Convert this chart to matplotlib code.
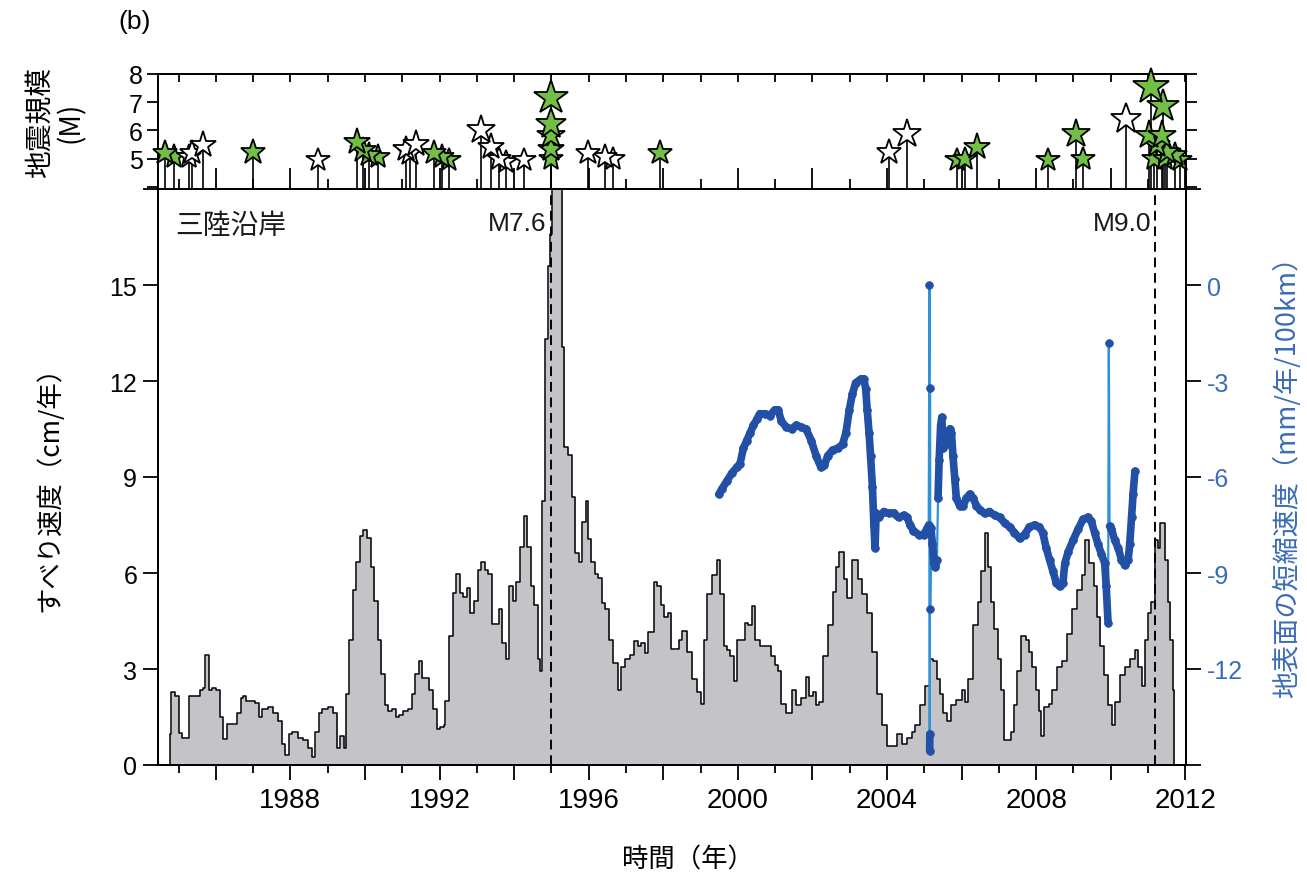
import matplotlib
matplotlib.use('Agg')
import matplotlib.pyplot as plt
from matplotlib.ticker import MultipleLocator, FixedLocator, FuncFormatter
from matplotlib.collections import LineCollection

plt.rcParams['font.family'] = ['Liberation Sans', 'Noto Sans CJK JP', 'DejaVu Sans']
CJK = ['Noto Sans CJK JP', 'DejaVu Sans']

# ---------------- data ----------------
# slip rate (cm/yr), step series
slip_years = [
    1984.76, 1984.76, 1984.81, 1984.90, 1985.00, 1985.10, 1985.29, 1985.57, 1985.67, 1985.72,
    1985.81, 1985.91, 1986.00, 1986.10, 1986.19, 1986.29, 1986.57, 1986.67, 1986.72, 1986.81,
    1987.05, 1987.15, 1987.24, 1987.39, 1987.53, 1987.67, 1987.77, 1987.86, 1987.96, 1988.05,
    1988.20, 1988.34, 1988.48, 1988.58, 1988.67, 1988.77, 1988.86, 1989.01, 1989.15, 1989.25,
    1989.34, 1989.44, 1989.48, 1989.58, 1989.68, 1989.77, 1989.87, 1989.96, 1990.06, 1990.15,
    1990.25, 1990.34, 1990.44, 1990.53, 1990.63, 1990.73, 1990.82, 1990.92, 1991.01, 1991.15,
    1991.25, 1991.35, 1991.44, 1991.54, 1991.63, 1991.73, 1991.82, 1991.92, 1992.01, 1992.11,
    1992.16, 1992.25, 1992.35, 1992.44, 1992.54, 1992.63, 1992.73, 1992.82, 1992.92, 1993.02,
    1993.11, 1993.21, 1993.30, 1993.40, 1993.49, 1993.59, 1993.68, 1993.78, 1993.87, 1993.97,
    1994.06, 1994.16, 1994.26, 1994.35, 1994.45, 1994.54, 1994.64, 1994.69, 1994.76, 1994.83,
    1994.92, 1994.97, 1995.02, 1995.29, 1995.35, 1995.45, 1995.54, 1995.64, 1995.73, 1995.83,
    1995.93, 1995.97, 1996.07, 1996.16, 1996.26, 1996.35, 1996.45, 1996.55, 1996.64, 1996.78,
    1996.88, 1996.98, 1997.12, 1997.21, 1997.31, 1997.40, 1997.50, 1997.60, 1997.74, 1997.83,
    1997.93, 1998.02, 1998.12, 1998.22, 1998.41, 1998.51, 1998.65, 1998.78, 1998.91, 1999.00,
    1999.09, 1999.18, 1999.31, 1999.44, 1999.53, 1999.62, 1999.71, 1999.80, 1999.89, 1999.97,
    2000.20, 2000.28, 2000.37, 2000.46, 2000.59, 2000.90, 2000.99, 2001.08, 2001.17, 2001.30,
    2001.44, 2001.57, 2001.70, 2001.83, 2001.92, 2002.01, 2002.10, 2002.19, 2002.28, 2002.41,
    2002.54, 2002.63, 2002.72, 2002.85, 2002.94, 2003.07, 2003.21, 2003.34, 2003.47, 2003.61,
    2003.74, 2003.87, 2004.00, 2004.27, 2004.40, 2004.54, 2004.67, 2004.76, 2004.89, 2005.02,
    2005.16, 2005.24, 2005.33, 2005.42, 2005.51, 2005.60, 2005.73, 2005.86, 2006.00, 2006.09,
    2006.17, 2006.31, 2006.44, 2006.53, 2006.62, 2006.71, 2006.79, 2006.88, 2006.97, 2007.06,
    2007.15, 2007.33, 2007.41, 2007.50, 2007.59, 2007.72, 2007.81, 2007.90, 2007.99, 2008.08,
    2008.12, 2008.21, 2008.34, 2008.43, 2008.57, 2008.70, 2008.83, 2008.96, 2009.10, 2009.23,
    2009.32, 2009.41, 2009.54, 2009.63, 2009.72, 2009.81, 2009.94, 2010.03, 2010.12, 2010.25,
    2010.38, 2010.51, 2010.65, 2010.74, 2010.83, 2010.91, 2011.00, 2011.09, 2011.18, 2011.27,
    2011.31, 2011.46, 2011.53, 2011.60, 2011.67, 2011.71,
]
slip_rate = [
    0.00, 0.96, 2.29, 2.17, 1.00, 0.84, 2.17, 2.35, 2.41, 3.43,
    2.35, 2.41, 2.35, 1.50, 0.80, 1.27, 1.63, 2.10, 2.17, 1.99,
    1.93, 1.50, 1.75, 1.80, 1.63, 1.39, 0.66, 0.30, 0.96, 1.02,
    0.84, 0.78, 0.54, 0.24, 1.02, 1.63, 1.75, 1.80, 1.63, 0.54,
    0.90, 0.54, 2.23, 3.90, 5.48, 6.33, 7.17, 7.35, 7.10, 6.20,
    5.12, 3.90, 2.83, 1.87, 1.69, 1.75, 1.50, 1.57, 1.69, 1.75,
    2.23, 2.83, 3.25, 2.71, 2.71, 2.35, 1.75, 1.14, 1.20, 1.26,
    1.99, 4.04, 5.36, 5.96, 5.36, 5.24, 5.54, 4.76, 5.12, 6.08,
    6.33, 6.08, 5.96, 4.40, 4.40, 4.88, 3.80, 3.31, 5.60, 5.12,
    5.72, 6.80, 7.77, 6.80, 5.60, 5.00, 3.31, 2.95, 8.25, 13.30,
    15.60, 16.60, 19.00, 13.07, 9.94, 9.70, 8.37, 6.63, 6.33, 7.59,
    8.25, 7.05, 6.33, 5.96, 5.84, 5.06, 4.88, 3.90, 3.19, 2.35,
    3.07, 3.31, 3.43, 3.86, 3.73, 3.80, 3.49, 4.16, 5.72, 5.60,
    5.00, 4.64, 4.76, 3.61, 3.90, 4.20, 3.54, 2.70, 2.28, 1.92,
    3.90, 5.34, 5.94, 6.42, 5.34, 3.72, 3.60, 3.42, 2.64, 3.90,
    4.44, 4.38, 4.98, 3.90, 3.72, 3.42, 3.12, 2.94, 1.92, 1.62,
    2.34, 1.86, 2.10, 2.76, 2.16, 2.28, 1.86, 1.98, 3.42, 4.38,
    5.40, 6.18, 6.66, 5.82, 5.22, 6.42, 5.82, 5.34, 4.74, 3.54,
    2.22, 1.26, 0.60, 0.96, 0.66, 0.84, 1.02, 1.26, 1.86, 2.46,
    3.30, 3.24, 2.70, 2.22, 1.62, 1.38, 1.86, 2.04, 2.34, 1.98,
    2.70, 4.38, 5.10, 6.06, 7.26, 6.18, 5.10, 4.26, 3.30, 2.34,
    0.78, 1.02, 1.86, 2.94, 4.02, 3.90, 3.54, 3.06, 2.34, 1.68,
    0.90, 1.80, 1.92, 2.34, 3.06, 3.24, 4.08, 4.86, 5.46, 5.94,
    7.02, 6.30, 5.58, 4.62, 3.72, 2.82, 1.86, 1.26, 1.98, 2.82,
    3.06, 3.30, 3.60, 3.06, 2.46, 3.90, 4.74, 5.10, 7.02, 6.78,
    7.56, 6.42, 5.10, 3.90, 2.34, 0.00,
]

# surface shortening rate (mm/yr/100km)
strain_years = [
    1999.49, 1999.58, 1999.71, 1999.84, 1999.97,
    2000.06, 2000.15, 2000.24, 2000.33, 2000.42, 2000.51, 2000.59, 2000.73, 2000.86, 2000.99,
    2001.08, 2001.17, 2001.30, 2001.44, 2001.57, 2001.70, 2001.83, 2001.97,
    2002.10, 2002.23, 2002.32, 2002.41, 2002.54, 2002.68, 2002.81, 2002.90, 2002.99,
    2003.07, 2003.16, 2003.30, 2003.38, 2003.43, 2003.47, 2003.52, 2003.56, 2003.61, 2003.65,
    2003.68, 2003.71, 2003.78, 2003.92,
    2004.05, 2004.18, 2004.31, 2004.45, 2004.54, 2004.62, 2004.71, 2004.85, 2004.98,
    2005.07, 2005.12, 2005.14, 2005.145, 2005.15, 2005.155, 2005.16, 2005.18, 2005.22, 2005.26,
    2005.30, 2005.34, 2005.37, 2005.40, 2005.44, 2005.47, 2005.51, 2005.55, 2005.64, 2005.69,
    2005.73, 2005.77, 2005.82, 2005.86, 2005.95,
    2006.04, 2006.13, 2006.22, 2006.31, 2006.40, 2006.49, 2006.62, 2006.75, 2006.89,
    2007.02, 2007.16, 2007.29, 2007.42, 2007.56, 2007.69, 2007.82, 2007.96,
    2008.09, 2008.18, 2008.27, 2008.36, 2008.45, 2008.54, 2008.63, 2008.72, 2008.77, 2008.86, 2008.99,
    2009.13, 2009.26, 2009.39, 2009.48, 2009.57, 2009.66, 2009.75, 2009.84, 2009.88, 2009.93,
    2009.95, 2009.97,
    2010.02, 2010.11, 2010.20, 2010.29, 2010.38, 2010.47, 2010.51, 2010.56, 2010.60, 2010.65,
]
strain_rate = [
    -6.54, -6.36, -6.12, -5.88, -5.70,
    -5.58, -5.10, -4.86, -4.62, -4.38, -4.20, -4.02, -4.02, -4.08, -3.90,
    -3.90, -4.26, -4.44, -4.50, -4.38, -4.44, -4.50, -4.86,
    -5.34, -5.70, -5.64, -5.34, -5.16, -5.10, -4.98, -4.62, -3.90,
    -3.42, -3.06, -2.94, -2.94, -3.24, -3.90, -4.62, -5.34, -6.30, -7.50,
    -8.22, -7.14, -7.26, -7.08,
    -7.14, -7.14, -7.26, -7.20, -7.26, -7.50, -7.68, -7.80, -7.80,
    -7.62, -7.50, 0.00, -14.55, -14.03, -3.22, -10.14, -7.60, -8.10, -8.70,
    -8.82, -8.60, -6.66, -5.46, -4.38, -4.14, -5.10, -4.62, -4.98, -4.50,
    -4.62, -5.34, -6.06, -6.66, -6.90,
    -6.90, -6.66, -6.54, -6.66, -6.90, -7.02, -7.14, -7.08, -7.20,
    -7.26, -7.44, -7.56, -7.74, -7.92, -7.80, -7.56, -7.50,
    -7.56, -7.74, -8.22, -8.58, -8.94, -9.30, -9.42, -9.30, -8.70, -8.34, -7.98,
    -7.62, -7.32, -7.26, -7.38, -7.74, -8.10, -8.40, -8.70, -9.42, -10.55,
    -1.82, -7.54,
    -7.62, -7.98, -8.22, -8.58, -8.76, -8.58, -8.10, -7.26, -6.54, -5.82,
]

# earthquakes (top panel)
green_years = [1984.64, 1984.87, 1987.00, 1989.80, 1989.94, 1990.12, 1990.34, 1991.85, 1992.07, 1992.25,
               1994.99, 1994.99, 1994.99, 1994.99, 1994.99, 1997.90, 2005.87, 2006.09, 2006.41, 2008.32,
               2009.06, 2009.26, 2011.03, 2011.08, 2011.17, 2011.24, 2011.37, 2011.39, 2011.45, 2011.50,
               2011.73, 2011.86]
green_mag = [5.18, 5.06, 5.24, 5.59, 5.30, 5.12, 5.06, 5.18, 5.06, 4.94,
             7.15, 6.24, 5.82, 5.35, 5.00, 5.18, 4.94, 5.00, 5.41, 4.94,
             5.88, 5.00, 5.82, 7.53, 5.00, 5.47, 5.82, 6.88, 5.00, 5.24,
             5.12, 4.94]
white_years = [1985.27, 1985.36, 1985.67, 1988.74, 1991.10, 1991.20, 1991.36, 1993.10, 1993.37, 1993.59,
               1993.77, 1994.26, 1995.99, 1996.44, 1996.66, 2004.05, 2004.54, 2010.41]
white_mag = [5.07, 5.18, 5.47, 4.94, 5.35, 5.20, 5.53, 6.00, 5.41, 5.00,
             4.88, 4.94, 5.18, 5.06, 5.00, 5.24, 5.88, 6.41]

event_years = [1994.99, 2011.19]
event_labels = ['M7.6', 'M9.0']

xtick_years = [1988, 1992, 1996, 2000, 2004, 2008, 2012]
left_ticks = [0, 3, 6, 9, 12, 15, 18]
left_labels = ['0', '3', '6', '9', '12', '15', '']
right_ticks = [-15, -12, -9, -6, -3, 0, 3]
right_labels = ['', '-12', '-9', '-6', '-3', '0', '']
mag_ticks = [4, 5, 6, 7, 8]
mag_labels = ['', '5', '6', '7', '8']

# ---------------- style ----------------
GRAY = '#c4c4c8'
BLUE_DOT = '#2150a6'
BLUE_LINE = '#2e93d6'
BLUE_TXT = '#3a6cb6'
GREEN = '#72bf45'
XLIM = (1984.45, 2012.02)

W, H = 1307, 887
fig = plt.figure(figsize=(W / 100, H / 100), dpi=100)
L, R = 158, 1186
ax = fig.add_axes([L / W, 1 - 766 / H, (R - L) / W, (766 - 190) / H])
axt = fig.add_axes([L / W, 1 - 190 / H, (R - L) / W, (190 - 75) / H])

# ---- main panel
ax.fill_between(slip_years, slip_rate, step='post', color=GRAY, lw=0, zorder=1)
ax.step(slip_years, slip_rate, where='post', color='k', lw=1.1, zorder=2)
for ey in event_years:
    ax.axvline(ey, color='k', lw=1.4, ls=(0, (5, 3)), zorder=3)
for ey, lab in zip(event_years, event_labels):
    ax.annotate(lab, xy=(ey, 1.0), xycoords=('data', 'axes fraction'),
                xytext=(-3, -16), textcoords='offset points', ha='right', va='top',
                fontsize=19, color='#1a1a1a')
ax.text(0.017, 0.9375, '三陸沿岸', transform=ax.transAxes, va='center', ha='left',
        fontsize=20, family=CJK, color='#1a1a1a')

ax.set_xlim(*XLIM)
ax.set_ylim(0, 18)
ax.xaxis.set_major_locator(MultipleLocator(2))
ax.xaxis.set_minor_locator(MultipleLocator(1))
ax.xaxis.set_major_formatter(FuncFormatter(
    lambda v, p: f'{int(round(v))}' if int(round(v)) in xtick_years else ''))
ax.tick_params(axis='x', which='major', direction='out', length=11, width=1.3,
               labelsize=20, pad=5, top=False)
ax.tick_params(axis='x', which='minor', direction='out', length=6, width=1.3, top=False)
ax.yaxis.set_major_locator(FixedLocator(left_ticks))
ax.set_yticklabels(left_labels)
ax.tick_params(axis='y', direction='out', length=11, width=1.3, labelsize=18, pad=4)
for s in ax.spines.values():
    s.set_linewidth(1.4)

ax2 = ax.twinx()
# thin light-blue connecting line (visible on the jumps)
ax2.plot(strain_years, strain_rate, color=BLUE_LINE, lw=1.6, zorder=4)
# dense dark-blue band for the smooth parts of the series
pts = list(zip(strain_years, strain_rate))
band = [[p, q] for p, q in zip(pts[:-1], pts[1:]) if abs(q[1] - p[1]) < 1.5]
ax2.add_collection(LineCollection(band, colors=BLUE_DOT, linewidths=5.5,
                                  capstyle='round', zorder=5))
ax2.plot(strain_years, strain_rate, ls='none', marker='o', ms=5.5,
         mfc=BLUE_DOT, mec=BLUE_DOT, mew=0.6, zorder=6)
ax2.set_ylim(-15, 3)
ax2.yaxis.set_major_locator(FixedLocator(right_ticks))
ax2.set_yticklabels(right_labels)
ax2.tick_params(axis='y', direction='out', length=11, width=1.3, labelsize=18,
                labelcolor=BLUE_TXT, pad=4)
for s in ax2.spines.values():
    s.set_linewidth(1.4)

# ---- top panel (magnitudes)
axt.set_xlim(*XLIM)
axt.set_ylim(3.92, 8)
base = axt.get_ylim()[0]
axt.vlines(white_years + green_years, base, white_mag + green_mag, color='k', lw=1.2, zorder=2)
stars = sorted([(m, y, 'w') for y, m in zip(white_years, white_mag)] +
               [(m, y, GREEN) for y, m in zip(green_years, green_mag)])
for m, y, c in stars:
    ms = 3.6 * m
    axt.plot([y], [m], marker='*', ms=ms, mfc=c, mec='k', mew=1.3, clip_on=False, zorder=3)

axt.yaxis.set_major_locator(FixedLocator(mag_ticks))
axt.set_yticklabels(mag_labels)
axt.tick_params(axis='y', direction='out', length=8, width=1.3, labelsize=18, pad=3,
                right=True)
axt.xaxis.set_major_locator(MultipleLocator(2))
axt.xaxis.set_minor_locator(MultipleLocator(1))
axt.tick_params(axis='x', which='major', direction='in', length=15, width=1.3,
                labelbottom=False, top=False)
axt.tick_params(axis='x', which='minor', direction='in', length=7, width=1.3, top=False)
sec = axt.secondary_xaxis('top')
sec.xaxis.set_major_locator(MultipleLocator(1))
sec.tick_params(axis='x', direction='in', length=6, width=1.3, labeltop=False)
for s in list(axt.spines.values()) + list(sec.spines.values()):
    s.set_linewidth(1.4)

# ---- labels
fig.text(118 / W, 1 - 22 / H, '(b)', fontsize=19, ha='left', va='center')
fig.text(56 / W, 1 - 122 / H, '地震規模\n(M)', rotation=90, ha='center', va='center',
         fontsize=20, family=CJK, linespacing=1.0, multialignment='center')
fig.text(50 / W, 1 - 482 / H, 'すべり速度（cm/年）', rotation=90, ha='center', va='center',
         fontsize=19, family=CJK)
fig.text(1287 / W, 1 - 470 / H, '地表面の短縮速度（mm/年/100km）', rotation=90, ha='center',
         va='center', fontsize=19.5, family=CJK, color=BLUE_TXT)
fig.text(688 / W, 1 - 860 / H, '時間（年）', ha='center', va='center', fontsize=19, family=CJK)

fig.savefig('out.png', dpi=100)
